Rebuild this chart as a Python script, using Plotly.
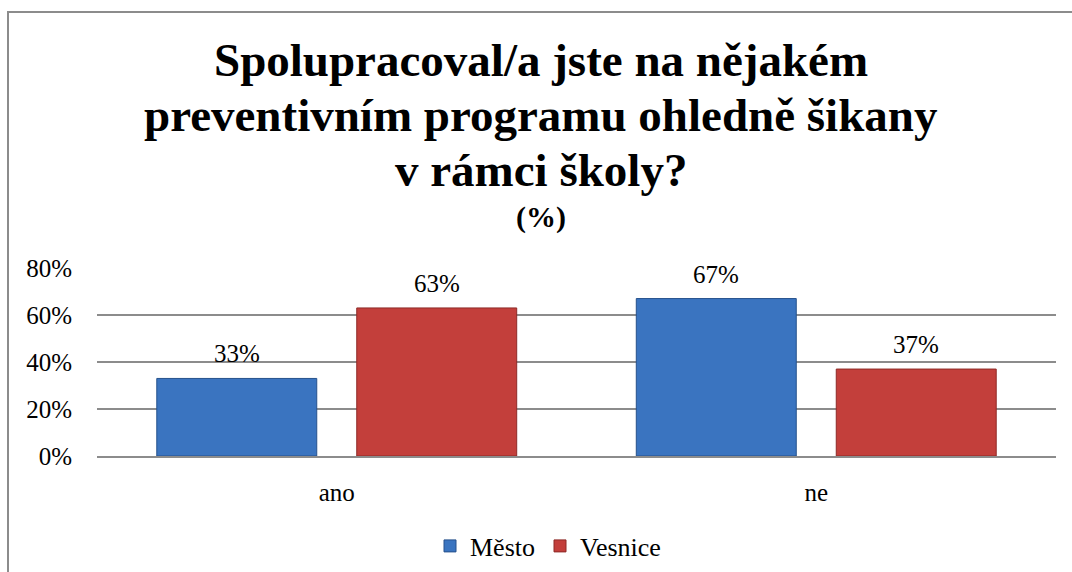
import plotly.graph_objects as go

categories = ["ano", "ne"]
mesto = [33, 67]
vesnice = [63, 37]
series_names = ["Město", "Vesnice"]
series_colors = ["#3a74c0", "#c33f3b"]
series_edges = ["#26518c", "#8e2a27"]
y_ticks = [0, 20, 40, 60, 80]
y_tick_labels = ["0%", "20%", "40%", "60%", "80%"]
title_lines = [
    "Spolupracoval/a jste na nějakém",
    "preventivním programu ohledně šikany",
    "v rámci školy?",
]
subtitle = "(%)"

SERIF = "Liberation Serif"
W, H = 1072, 572
L, R, T, B = 97, 16, 268, 116
BARGAP = 0.166

fig = go.Figure()
for name, vals, col, edge in zip(series_names, [mesto, vesnice], series_colors, series_edges):
    fig.add_trace(go.Bar(
        x=categories, y=vals, name=name,
        marker=dict(color=col, line=dict(color=edge, width=1)),
    ))

# value labels above each bar (offset to the bar's slot within the group)
slot = (1 - BARGAP) / 2
for s, vals in enumerate([mesto, vesnice]):
    off = -slot / 2 + s * slot
    for j, v in enumerate(vals):
        fig.add_annotation(
            x=j + off, y=v, xref="x", yref="y", text=f"{v}%",
            showarrow=False, yanchor="bottom", yshift=9,
            font=dict(family=SERIF, size=25, color="#000"),
        )

pw, ph = W - L - R, H - T - B
def px_to_paper_y(py):
    return (H - B - py) / ph
def px_to_paper_x(px):
    return (px - L) / pw

# title lines placed individually for tight line spacing
title_y = [60, 115, 170]
for line, yy in zip(title_lines, title_y):
    fig.add_annotation(
        text=line, xref="paper", yref="paper",
        x=px_to_paper_x(541), y=px_to_paper_y(yy),
        xanchor="center", yanchor="middle", showarrow=False,
        font=dict(family=SERIF, size=47, color="#000", weight="bold"),
    )
fig.add_annotation(
    text=subtitle, xref="paper", yref="paper",
    x=px_to_paper_x(541), y=px_to_paper_y(217),
    xanchor="center", yanchor="middle", showarrow=False,
    font=dict(family=SERIF, size=30, color="#000", weight="bold"),
)

# chart frame
fig.add_shape(
    type="rect", xref="paper", yref="paper",
    x0=px_to_paper_x(8), x1=px_to_paper_x(W + 10),
    y0=px_to_paper_y(H + 10), y1=px_to_paper_y(12),
    line=dict(color="#8c8c8c", width=2), fillcolor="rgba(0,0,0,0)", layer="below",
)

fig.update_layout(
    width=W, height=H,
    margin=dict(l=L, r=R, t=T, b=B, autoexpand=False),
    paper_bgcolor="white", plot_bgcolor="white",
    font=dict(family=SERIF, color="#000"),
    barmode="group", bargap=BARGAP, bargroupgap=0.2,
    showlegend=True,
    legend=dict(
        orientation="h", xanchor="center", yanchor="middle",
        x=px_to_paper_x(548), y=px_to_paper_y(546),
        font=dict(family=SERIF, size=26, color="#000"),
        itemwidth=30, traceorder="normal",
    ),
    xaxis=dict(
        showgrid=False, showline=True, linecolor="#8c8c8c", linewidth=1.5,
        tickfont=dict(family=SERIF, size=25, color="#000"),
        ticks="", ticklabelstandoff=13,
    ),
    yaxis=dict(
        range=[0, 80], tickvals=y_ticks, ticktext=y_tick_labels,
        showgrid=True, gridcolor="#8c8c8c", gridwidth=1.5,
        zeroline=False, showline=False,
        tickfont=dict(family=SERIF, size=25, color="#000"),
        ticklabelstandoff=24,
    ),
)

fig.write_html("out.html")
